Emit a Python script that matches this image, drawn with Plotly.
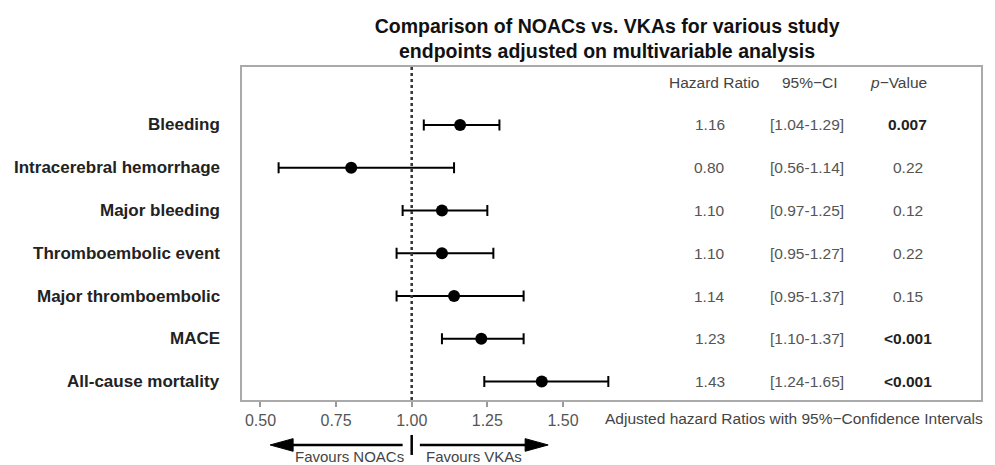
import plotly.graph_objects as go

# ---------------- data ----------------
endpoints = ["Bleeding", "Intracerebral hemorrhage", "Major bleeding",
             "Thromboembolic event", "Major thromboembolic", "MACE",
             "All-cause mortality"]
hazard_ratio = [1.16, 0.80, 1.10, 1.10, 1.14, 1.23, 1.43]
ci_low = [1.04, 0.56, 0.97, 0.95, 0.95, 1.10, 1.24]
ci_high = [1.29, 1.14, 1.25, 1.27, 1.37, 1.37, 1.65]
p_values = ["0.007", "0.22", "0.12", "0.22", "0.15", "<0.001", "<0.001"]
p_significant = [True, False, False, False, False, True, True]
tick_values = [0.50, 0.75, 1.00, 1.25, 1.50]
tick_labels = ["0.50", "0.75", "1.00", "1.25", "1.50"]

FONT = "Liberation Sans, Arial, Helvetica, sans-serif"
rows = list(range(1, len(endpoints) + 1))

fig = go.Figure()
fig.add_trace(go.Scatter(
    x=hazard_ratio, y=rows, mode="markers",
    marker=dict(color="black", size=12, symbol="circle"),
    error_x=dict(type="data", symmetric=False,
                 array=[h - m for h, m in zip(ci_high, hazard_ratio)],
                 arrayminus=[m - l for m, l in zip(hazard_ratio, ci_low)],
                 color="black", thickness=2, width=5.5),
    showlegend=False, hoverinfo="skip"))

# reference line at 1
fig.add_shape(type="line", xref="x", yref="paper", x0=1, x1=1, y0=0, y1=1,
              line=dict(color="#333333", width=2.5, dash="dot"))

ann = []
# left labels
for r, lab in zip(rows, endpoints):
    ann.append(dict(xref="paper", yref="y", x=-0.027, y=r, text="<b>%s</b>" % lab,
                    xanchor="right", yanchor="middle", showarrow=False,
                    font=dict(family=FONT, size=17, color="#222222")))
# table header
TS = 15.5
hdr_font = dict(family=FONT, size=TS, color="#444444")
ann.append(dict(xref="paper", yref="y", x=0.639, y=0, text="Hazard Ratio",
                xanchor="center", yanchor="middle", showarrow=False, font=hdr_font))
ann.append(dict(xref="paper", yref="y", x=0.768, y=0, text="95%\u2212CI",
                xanchor="center", yanchor="middle", showarrow=False, font=hdr_font))
ann.append(dict(xref="paper", yref="y", x=0.889, y=0, text="<i>p</i>\u2212Value",
                xanchor="center", yanchor="middle", showarrow=False, font=hdr_font))
# table values
val_font = dict(family=FONT, size=TS, color="#555555")
for r, h, lo, hi, p, sig in zip(rows, hazard_ratio, ci_low, ci_high, p_values, p_significant):
    ann.append(dict(xref="paper", yref="y", x=0.633, y=r, text="%.2f" % h,
                    xanchor="center", yanchor="middle", showarrow=False, font=val_font))
    ann.append(dict(xref="paper", yref="y", x=0.7646, y=r,
                    text="[%.2f-%.2f]" % (lo, hi), xanchor="center", yanchor="middle",
                    showarrow=False, font=val_font))
    ptxt = p.replace("<", "&lt;")
    if sig:
        ptxt = "<b>%s</b>" % ptxt
    ann.append(dict(xref="paper", yref="y", x=0.901, y=r, text=ptxt,
                    xanchor="center", yanchor="middle", showarrow=False,
                    font=dict(family=FONT, size=TS,
                              color="#222222" if sig else "#555555")))
# axis title
ann.append(dict(xref="paper", yref="paper", x=0.489, y=-0.057,
                text="Adjusted hazard Ratios with 95%\u2212Confidence Intervals",
                xanchor="left", yanchor="middle", showarrow=False,
                font=dict(family=FONT, size=TS, color="#444444")))
# favours labels
fav_font = dict(family=FONT, size=15, color="#444444")
ann.append(dict(xref="x", yref="paper", x=1, y=-0.171, text="Favours NOACs",
                xanchor="right", yanchor="middle", xshift=-6, showarrow=False,
                font=fav_font))
ann.append(dict(xref="x", yref="paper", x=1, y=-0.171, text="Favours VKAs",
                xanchor="left", yanchor="middle", xshift=12, showarrow=False,
                font=fav_font))

# arrows below the axis
ya = -0.135
hh = 0.019
fig.add_shape(type="line", xref="x", yref="paper", x0=0.97, x1=0.60, y0=ya, y1=ya,
              line=dict(color="black", width=2.5))
fig.add_shape(type="path", xref="x", yref="paper",
              path="M 0.532 %f L 0.608 %f L 0.608 %f Z" % (ya, ya + hh, ya - hh),
              fillcolor="black", line=dict(color="black", width=1))
fig.add_shape(type="line", xref="x", yref="paper", x0=1.027, x1=1.38, y0=ya, y1=ya,
              line=dict(color="black", width=2.5))
fig.add_shape(type="path", xref="x", yref="paper",
              path="M 1.451 %f L 1.375 %f L 1.375 %f Z" % (ya, ya + hh, ya - hh),
              fillcolor="black", line=dict(color="black", width=1))
fig.add_shape(type="line", xref="x", yref="paper", x0=1, x1=1, y0=-0.105, y1=-0.165,
              line=dict(color="black", width=2.5))

fig.update_layout(
    width=995, height=465,
    margin=dict(l=242, r=14, t=67, b=65, pad=0),
    paper_bgcolor="white", plot_bgcolor="white",
    title=dict(text="<b>Comparison of NOACs vs. VKAs for various study<br>endpoints adjusted on multivariable analysis</b>",
               x=0.494, xref="paper", xanchor="center",
               y=1 - 33 / 465, yref="container", yanchor="middle",
               font=dict(family=FONT, size=19.5, color="#111111")),
    annotations=ann,
    xaxis=dict(range=[0.439, 2.882], tickvals=tick_values, ticktext=tick_labels,
               ticks="outside", ticklen=5, tickwidth=1.5, tickcolor="#999999",
               showgrid=False, zeroline=False, showline=True, linecolor="#aaaaaa",
               linewidth=1.5, mirror=True,
               tickfont=dict(family=FONT, size=16, color="#555555")),
    yaxis=dict(range=[7.43, -0.355], showticklabels=False, ticks="",
               showgrid=False, zeroline=False, showline=True, linecolor="#aaaaaa",
               linewidth=1.5, mirror=True),
)
fig.update_xaxes(tickprefix="<b>", ticksuffix="</b>")

fig.write_html("out.html", config={"displayModeBar": False},
               post_script="document.body.style.margin='0';document.body.style.padding='0';")
